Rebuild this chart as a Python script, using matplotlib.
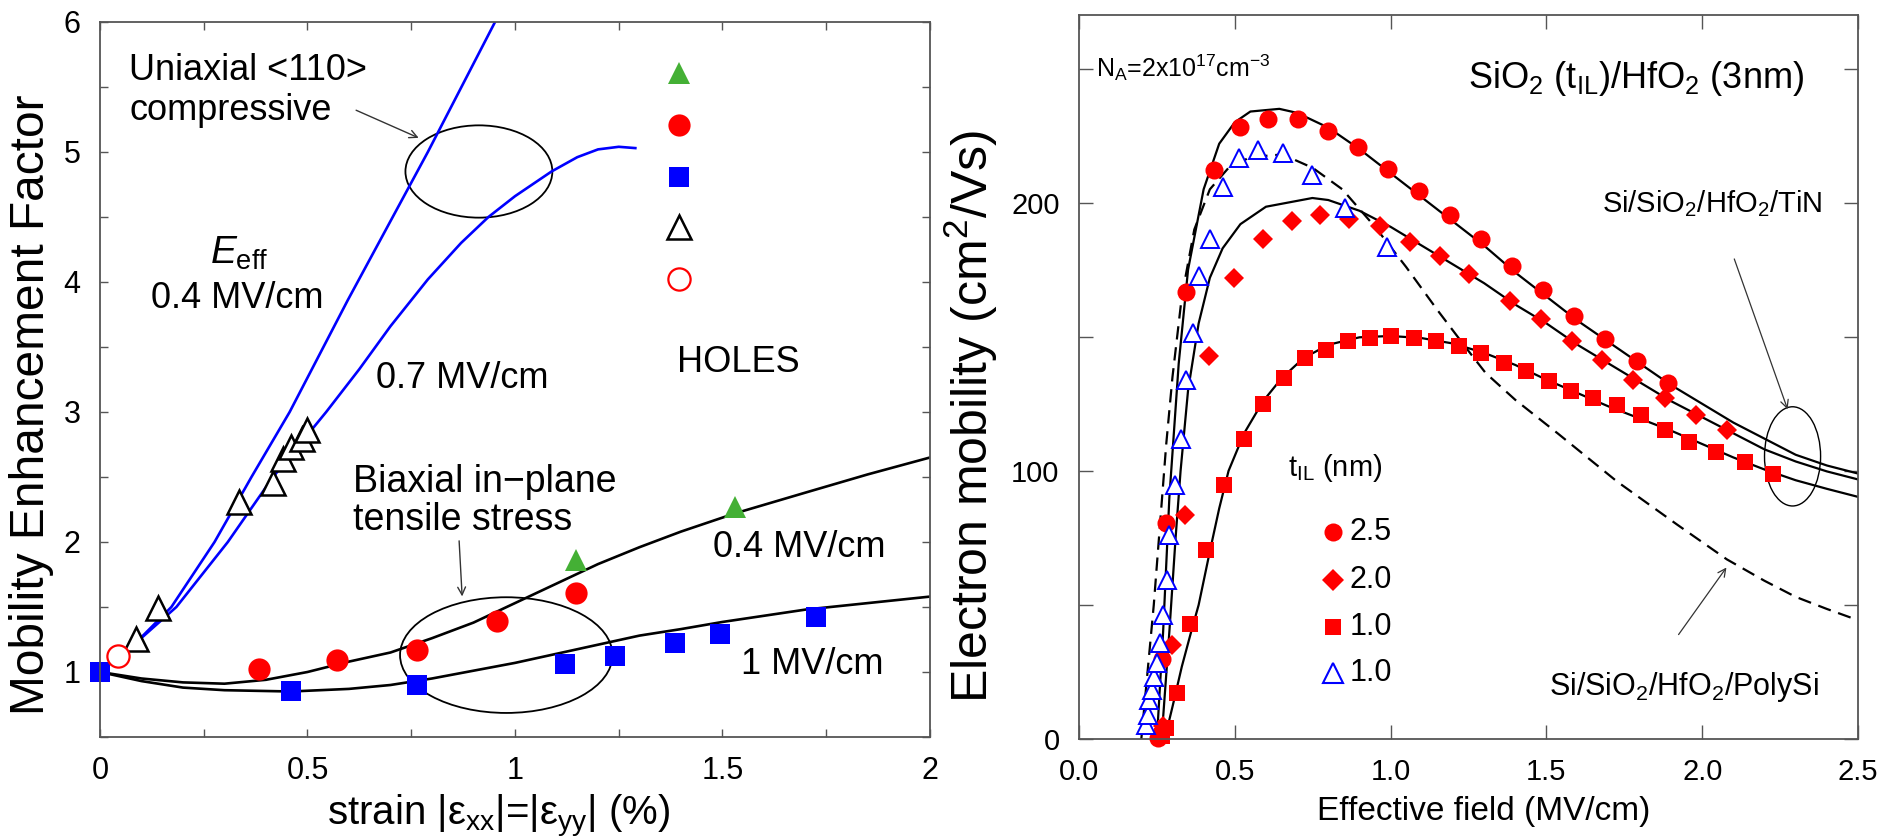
import matplotlib
matplotlib.use("Agg")
import matplotlib.pyplot as plt
from matplotlib.patches import Ellipse
from matplotlib.ticker import MultipleLocator

plt.rcParams['font.family'] = ['Liberation Sans', 'DejaVu Sans']
plt.rcParams['mathtext.fontset'] = 'custom'
plt.rcParams['mathtext.rm'] = 'Liberation Sans'
plt.rcParams['mathtext.it'] = 'Liberation Sans:italic'
plt.rcParams['mathtext.bf'] = 'Liberation Sans:bold'

# ---- left panel data (strain, enhancement factor) ----
uni04_x = [0.085, 0.172, 0.276, 0.365, 0.457, 0.597, 0.79, 0.96]
uni04_y = [1.22, 1.5, 2.0, 2.5, 3.0, 3.86, 5.0, 6.05]
uni07_x = [0.085, 0.184, 0.308, 0.417, 0.545, 0.625, 0.70, 0.79, 0.87, 0.936, 1.0, 1.088, 1.15, 1.2, 1.25, 1.29]
uni07_y = [1.22, 1.5, 2.0, 2.5, 3.0, 3.33, 3.66, 4.02, 4.3, 4.5, 4.66, 4.85, 4.96, 5.02, 5.04, 5.03]

bi04_x = [0, 0.1, 0.2, 0.3, 0.4, 0.5, 0.6, 0.7, 0.8, 0.9, 1.0, 1.1, 1.2, 1.3, 1.4, 1.53, 1.7, 1.85, 2.0]
bi04_y = [1.0, 0.95, 0.92, 0.91, 0.94, 1.0, 1.08, 1.15, 1.26, 1.38, 1.53, 1.68, 1.83, 1.96, 2.08, 2.22, 2.38, 2.52, 2.65]
bi1_x = [0, 0.1, 0.2, 0.3, 0.46, 0.6, 0.7, 0.8, 0.9, 1.0, 1.1, 1.2, 1.3, 1.4, 1.5, 1.7, 1.85, 2.0]
bi1_y = [1.0, 0.93, 0.88, 0.86, 0.85, 0.87, 0.90, 0.95, 1.01, 1.07, 1.14, 1.21, 1.28, 1.33, 1.385, 1.48, 1.53, 1.58]

green_x = [1.146, 1.53]
green_y = [1.86, 2.27]
redc_x = [0.383, 0.572, 0.763, 0.956, 1.146]
redc_y = [1.02, 1.09, 1.17, 1.39, 1.61]
blues_x = [0.0, 0.46, 0.765, 1.12, 1.24, 1.385, 1.494, 1.726]
blues_y = [1.0, 0.85, 0.90, 1.06, 1.12, 1.22, 1.29, 1.42]
opentri_x = [0.087, 0.14, 0.335, 0.416, 0.44, 0.46, 0.487, 0.5]
opentri_y = [1.25, 1.49, 2.31, 2.45, 2.64, 2.73, 2.79, 2.86]
opencirc_x = [0.044]
opencirc_y = [1.12]

# ---- right panel data (effective field, mobility) ----
c25_x = [0.25, 0.27, 0.29, 0.32, 0.35, 0.40, 0.45, 0.50, 0.55, 0.643, 0.70, 0.80, 0.90, 1.0, 1.1, 1.2,
         1.3, 1.4, 1.5, 1.6, 1.7, 1.8, 1.9, 2.0, 2.1, 2.2, 2.3, 2.4, 2.5]
c25_y = [0, 40, 90, 140, 175, 205, 222, 230, 234, 235, 233.5, 228, 220, 211, 202, 193,
         184, 174, 165, 156, 148, 140, 132, 125, 118, 112, 106, 102, 99]
c20_x = [0.265, 0.29, 0.31, 0.326, 0.35, 0.384, 0.42, 0.461, 0.518, 0.6, 0.749, 0.8, 0.9, 1.0, 1.1, 1.2,
         1.3, 1.4, 1.5, 1.6, 1.7, 1.8, 1.9, 2.0, 2.1, 2.2, 2.3, 2.4, 2.5]
c20_y = [0, 40, 75, 100, 130, 155, 172, 183, 192, 198.5, 201.75, 201, 197, 191, 184, 177,
         170, 162, 155, 147, 140, 133, 126, 120, 114, 108, 103.5, 99.8, 96.8]
c10_x = [0.275, 0.30, 0.33, 0.36, 0.384, 0.42, 0.45, 0.48, 0.53, 0.591, 0.65, 0.72, 0.8, 0.9, 1.0, 1.1,
         1.2, 1.3, 1.4, 1.5, 1.6, 1.7, 1.8, 1.9, 2.0, 2.1, 2.2, 2.3, 2.4, 2.5]
c10_y = [0, 12, 27, 40, 50, 70, 86, 100, 114, 126, 134.5, 142, 147, 149.8, 150.3, 149.5,
         147.5, 144, 139.5, 134, 129, 124, 119.5, 115, 110, 105, 100.5, 96.5, 93.3, 90.3]
poly_x = [0.20, 0.22, 0.24, 0.26, 0.28, 0.30, 0.33, 0.37, 0.42, 0.48, 0.55, 0.653, 0.75, 0.845, 0.95,
          1.05, 1.15, 1.248, 1.305, 1.40, 1.536, 1.727, 1.919, 2.079, 2.2, 2.3, 2.4, 2.5]
poly_y = [0, 25, 50, 80, 110, 135, 165, 190, 205, 213, 217, 218, 213, 205, 191,
          176, 160, 145, 136.5, 126.5, 114, 96, 80, 67, 59, 53, 48.5, 44.3]

circ_x = [0.255, 0.265, 0.278, 0.342, 0.432, 0.518, 0.608, 0.704, 0.800, 0.896, 0.992, 1.090, 1.190,
          1.290, 1.390, 1.488, 1.587, 1.689, 1.791, 1.891]
circ_y = [0.5, 30, 80.6, 166.75, 212.1, 228.4, 231.25, 231.25, 226.75, 220.6, 212.75, 204.25, 195.5,
          186.5, 176.5, 167.5, 157.75, 149, 140.9, 132.75]
diam_x = [0.27, 0.30, 0.34, 0.418, 0.499, 0.591, 0.683, 0.774, 0.868, 0.965, 1.061, 1.157, 1.253,
          1.382, 1.483, 1.583, 1.679, 1.779, 1.881, 1.98, 2.079]
diam_y = [5, 35, 83.5, 142.75, 171.75, 186.5, 193, 195.5, 194, 191.25, 185.5, 180.25, 173.4,
          163.4, 156.5, 148.4, 141.5, 134, 127, 121, 115.4]
sq_x = [0.265, 0.278, 0.313, 0.355, 0.407, 0.466, 0.528, 0.591, 0.658, 0.726, 0.793, 0.864, 0.933, 1.002,
        1.075, 1.146, 1.219, 1.29, 1.363, 1.434, 1.507, 1.58, 1.651, 1.727, 1.804, 1.881, 1.958,
        2.044, 2.136, 2.226]
sq_y = [1, 4, 17, 42.7, 70.4, 94.7, 111.8, 125, 134.6, 142.1, 145.25, 148.4, 149.6, 150.25,
        149.6, 148.4, 146.5, 144, 140.25, 137.1, 133.4, 129.6, 127.1, 124.6, 120.9, 115.2, 110.8,
        107, 103.4, 99]
tri_x = [0.215, 0.223, 0.226, 0.234, 0.24, 0.25, 0.261, 0.269, 0.282, 0.288, 0.307, 0.326, 0.342,
         0.365, 0.384, 0.422, 0.461, 0.514, 0.576, 0.656, 0.749, 0.854, 0.988]
tri_y = [5.2, 8.9, 14.5, 18.3, 23.2, 28.2, 35.7, 46.2, 59.3, 76, 94.7, 112, 134,
         151.5, 172.75, 186.5, 205.9, 216.75, 219.6, 218.4, 210.5, 198, 183.4]

tIL_labels = ['2.5', '2.0', '1.0', '1.0']
left_xticks = [0, 0.5, 1, 1.5, 2]
left_xlabels = ['0', '0.5', '1', '1.5', '2']
left_yticks = [1, 2, 3, 4, 5, 6]
right_xticks = [0, 0.5, 1.0, 1.5, 2.0, 2.5]
right_xlabels = ['0.0', '0.5', '1.0', '1.5', '2.0', '2.5']
right_yticks = [0, 50, 100, 150, 200, 250]
right_ylabels = ['0', '', '100', '', '200', '']

RED = '#ff0000'
BLUE = '#0000ff'
GREEN = '#44b035'
SPINE = '#555555'

fig = plt.figure(figsize=(18.95, 8.38), dpi=100)
ax1 = fig.add_axes([0.05277, 0.12053, 0.43799, 0.85322])
ax2 = fig.add_axes([0.56939, 0.11814, 0.41108, 0.86396])

for ax in (ax1, ax2):
    for s in ax.spines.values():
        s.set_color(SPINE)
        s.set_linewidth(1.3)

# ---------------- left panel ----------------
ax1.plot(uni04_x, uni04_y, color=BLUE, lw=1.9)
ax1.plot(uni07_x, uni07_y, color=BLUE, lw=1.9)
ax1.plot(bi04_x, bi04_y, color='black', lw=1.9)
ax1.plot(bi1_x, bi1_y, color='black', lw=1.9)

ax1.plot(blues_x, blues_y, 's', color=BLUE, ms=14.5, mew=0, clip_on=False)
ax1.plot(redc_x, redc_y, 'o', color=RED, ms=16, mew=0)
ax1.plot(green_x, green_y, '^', color=GREEN, ms=16, mew=0)
ax1.plot(opentri_x, opentri_y, '^', mfc='white', mec='black', ms=17, mew=1.8)
ax1.plot(opencirc_x, opencirc_y, 'o', mfc='white', mec=RED, ms=16, mew=1.6)

# symbol key
ax1.plot([1.394], [5.61], '^', color=GREEN, ms=16, mew=0)
ax1.plot([1.394], [5.21], 'o', color=RED, ms=16, mew=0)
ax1.plot([1.394], [4.81], 's', color=BLUE, ms=14.5, mew=0)
ax1.plot([1.394], [4.42], '^', mfc='white', mec='black', ms=17, mew=1.8)
ax1.plot([1.394], [4.02], 'o', mfc='white', mec=RED, ms=16, mew=1.6)

ax1.add_patch(Ellipse((0.913, 4.85), 0.354, 0.71, fill=False, ec='black', lw=1.3))
ax1.add_patch(Ellipse((0.979, 1.13), 0.512, 0.89, fill=False, ec='black', lw=1.3))
ax1.annotate('', xy=(0.774, 5.10), xytext=(0.611, 5.33),
             arrowprops=dict(arrowstyle='->', color='#333333', lw=1.0, mutation_scale=14))
ax1.annotate('', xy=(0.873, 1.56), xytext=(0.865, 2.03),
             arrowprops=dict(arrowstyle='->', color='#333333', lw=1.0, mutation_scale=14))

tk = dict(fontsize=26, color='black')
ax1.text(0.07, 5.63, 'Uniaxial <110>', va='center', **tk)
ax1.text(0.07, 5.32, 'compressive', va='center', **tk)
ax1.text(0.265, 4.22, r'$E_{\mathrm{eff}}$', va='center', fontsize=28)
ax1.text(0.124, 3.87, '0.4 MV/cm', va='center', **tk)
ax1.text(0.666, 3.26, '0.7 MV/cm', va='center', **tk)
ax1.text(1.39, 3.38, 'HOLES', va='center', **tk)
ax1.text(0.61, 2.46, 'Biaxial in\u2212plane', va='center', fontsize=27)
ax1.text(0.61, 2.17, 'tensile stress', va='center', fontsize=27)
ax1.text(1.478, 1.96, '0.4 MV/cm', va='center', **tk)
ax1.text(1.544, 1.06, '1 MV/cm', va='center', **tk)

ax1.set_xlim(0, 2)
ax1.set_ylim(0.5, 6)
ax1.set_xticks(left_xticks)
ax1.set_xticklabels(left_xlabels)
ax1.xaxis.set_minor_locator(MultipleLocator(0.25))
ax1.set_yticks(left_yticks)
ax1.set_yticklabels([str(v) for v in left_yticks])
ax1.yaxis.set_minor_locator(MultipleLocator(0.5))
ax1.tick_params(which='both', direction='in', top=True, right=True, color=SPINE, width=1.0)
ax1.tick_params(which='major', length=6, labelsize=22, pad=14)
ax1.tick_params(which='minor', length=6)
ax1.set_ylabel('Mobility Enhancement Factor', fontsize=34.5)
ax1.yaxis.set_label_coords(-0.055, 0.465)
ax1.set_xlabel(r'strain |ε$_{\mathrm{xx}}$|=|ε$_{\mathrm{yy}}$| (%)', fontsize=29, va='top')
ax1.xaxis.set_label_coords(0.48, -0.079)

# ---------------- right panel ----------------
ax2.plot(c25_x, c25_y, color='black', lw=1.6)
ax2.plot(c20_x, c20_y, color='black', lw=1.6)
ax2.plot(c10_x, c10_y, color='black', lw=1.6)
ax2.plot(poly_x, poly_y, color='black', lw=1.6, ls=(0, (6, 3.5)))

ax2.plot(circ_x, circ_y, 'o', color=RED, ms=13, mew=0, clip_on=False)
ax2.plot(diam_x, diam_y, 'D', color=RED, ms=10, mew=0, clip_on=False)
ax2.plot(sq_x, sq_y, 's', color=RED, ms=11.5, mew=0, clip_on=False)
ax2.plot(tri_x, tri_y, '^', mfc='white', mec=BLUE, ms=12.5, mew=1.4, clip_on=False)

key_y = [77.3, 59.3, 41.9, 24.5]
ax2.plot([0.816], [key_y[0]], 'o', color=RED, ms=13, mew=0)
ax2.plot([0.816], [key_y[1]], 'D', color=RED, ms=11, mew=0)
ax2.plot([0.816], [key_y[2]], 's', color=RED, ms=12, mew=0)
ax2.plot([0.816], [key_y[3]], '^', mfc='white', mec=BLUE, ms=14, mew=1.5)
for yy, lab in zip(key_y, tIL_labels):
    ax2.text(0.868, yy, lab, va='center', fontsize=22)

ax2.add_patch(Ellipse((2.29, 105.4), 0.18, 37, fill=False, ec='black', lw=1.0))
ax2.annotate('', xy=(2.277, 122), xytext=(2.10, 180),
             arrowprops=dict(arrowstyle='->', color='#333333', lw=0.9, mutation_scale=14))
ax2.annotate('', xy=(2.083, 64.8), xytext=(1.919, 38.1),
             arrowprops=dict(arrowstyle='->', color='#333333', lw=0.9, mutation_scale=14))

ax2.text(0.054, 250.25, r'N$_{\mathrm{A}}$=2x10$^{17}$cm$^{-3}$', va='center', fontsize=18)
ax2.text(1.248, 246.5, r'SiO$_2$ (t$_{\mathrm{IL}}$)/HfO$_2$ (3nm)', va='center', fontsize=26)
ax2.text(1.68, 199.6, r'Si/SiO$_2$/HfO$_2$/TiN', va='center', fontsize=21)
ax2.text(1.507, 19.5, r'Si/SiO$_2$/HfO$_2$/PolySi', va='center', fontsize=22)
ax2.text(0.672, 100.9, r't$_{\mathrm{IL}}$ (nm)', va='center', fontsize=21)

ax2.set_xlim(0, 2.5)
ax2.set_ylim(0, 270)
ax2.set_xticks(right_xticks)
ax2.set_xticklabels(right_xlabels)
ax2.set_yticks(right_yticks)
ax2.set_yticklabels(right_ylabels)
ax2.tick_params(which='both', direction='in', top=True, right=True, color=SPINE, width=1.0)
ax2.tick_params(which='major', length=10, labelsize=21, pad=14)
ax2.set_ylabel(r'Electron mobility (cm$^2$/Vs)', fontsize=36)
ax2.yaxis.set_label_coords(-0.102, 0.445)
ax2.set_xlabel('Effective field (MV/cm)', fontsize=24, va='top')
ax2.xaxis.set_label_coords(0.52, -0.079)

fig.savefig('out.png', dpi=100)
